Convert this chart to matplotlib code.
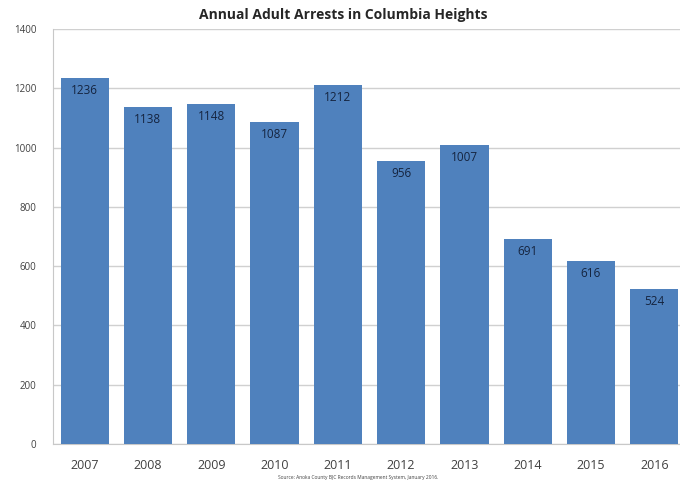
import matplotlib
matplotlib.use('Agg')
import matplotlib.pyplot as plt
import numpy as np

plt.rcParams['font.family'] = ['Open Sans', 'DejaVu Sans']

years = ['2007', '2008', '2009', '2010', '2011', '2012', '2013', '2014', '2015', '2016']
arrests = [1236, 1138, 1148, 1087, 1212, 956, 1007, 691, 616, 524]
yticks = [0, 200, 400, 600, 800, 1000, 1200, 1400]

fig = plt.figure(figsize=(6.8, 4.88), dpi=100)
ax = fig.add_axes([53/680, 1 - 444/488, 633/680, 415/488])

x = np.arange(len(years))
bars = ax.bar(x, arrests, width=0.76, color='#4F81BD', zorder=3)

# value labels just inside the top of each bar
for b, v in zip(bars, arrests):
    ax.text(b.get_x() + b.get_width()/2, v - 20, str(v), ha='center', va='top',
            fontsize=8.5, color='#15243F', zorder=4)

ax.set_xlim(-0.5, len(years) - 0.5)
ax.set_ylim(0, 1400)
ax.set_yticks(yticks)
ax.set_yticklabels([str(t) for t in yticks], fontsize=7, color='#404040')
ax.set_xticks(x)
ax.set_xticklabels(years, fontsize=9, color='#404040')
ax.tick_params(axis='both', length=0, pad=12)
ax.tick_params(axis='x', pad=11)
ax.yaxis.grid(True, color='#D0D0D0', linewidth=1, zorder=0)

for s in ['top', 'right']:
    ax.spines[s].set_visible(False)
ax.spines['left'].set_color('#C8C8C8')
ax.spines['bottom'].set_color('#C8C8C8')

fig.text(343/680, 1 - 15/488, 'Annual Adult Arrests in Columbia Heights',
         ha='center', va='center', fontsize=10, fontweight='bold', color='#262626')
fig.text(358/680, 1 - 478/488,
         'Source: Anoka County BJC Records Management System, January 2016.',
         ha='center', va='center', fontsize=3.5, color='#404040')

fig.savefig('out.png', dpi=100)
